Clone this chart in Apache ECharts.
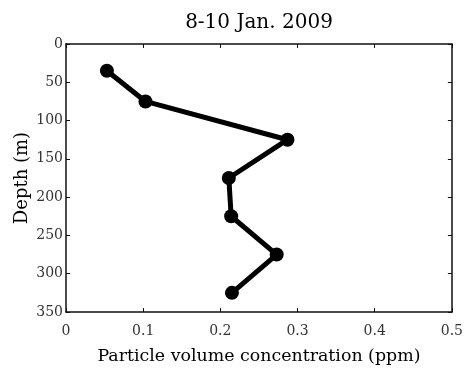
<!DOCTYPE html>
<html><head><meta charset="utf-8">
<script src="https://cdn.jsdelivr.net/npm/echarts@6/dist/echarts.min.js"></script>
<style>html,body{margin:0;padding:0;background:#fff}#c{width:466px;height:375px}</style>
</head><body><div id="c"></div>
<script>
var concentration = [0.053, 0.103, 0.287, 0.211, 0.214, 0.273, 0.215];
var depth = [35, 75, 125, 175, 225, 275, 325];
var xTicks = [0, 0.1, 0.2, 0.3, 0.4, 0.5];
var yTicks = [0, 50, 100, 150, 200, 250, 300, 350];
var title = '8-10 Jan. 2009';
var xName = 'Particle volume concentration (ppm)';
var yName = 'Depth (m)';

var font = 'DejaVu Serif';
var chart = echarts.init(document.getElementById('c'));
var pts = concentration.map(function(v, i){ return [v, depth[i]]; });
var axisLine = {show: true, onZero: false, lineStyle: {color: '#111', width: 1.5}};
var tick = {show: true, inside: true, length: 4, lineStyle: {color: '#111', width: 1}};
var lbl = {color: '#333', fontFamily: font, fontSize: 14};
chart.setOption({
  animation: false,
  title: {text: title, top: 8, left: 254, textAlign: 'center',
    textStyle: {fontFamily: font, fontSize: 20, fontWeight: 'normal', color: '#000'}},
  grid: {left: 66, right: 14, top: 44, bottom: 63},
  xAxis: [
    {type: 'value', min: xTicks[0], max: xTicks[xTicks.length-1], interval: 0.1,
     name: xName, nameLocation: 'middle', nameGap: 36, nameMoveOverlap: false,
     nameTextStyle: {fontFamily: font, fontSize: 17.4, color: '#000'},
     axisLine: axisLine, axisTick: tick, splitLine: {show: false},
     axisLabel: Object.assign({margin: 12, formatter: function(v){ return String(v); }}, lbl)},
    {type: 'value', position: 'top', min: 0, max: 0.5, interval: 0.1,
     axisLine: axisLine, axisTick: tick, axisLabel: {show: false}, splitLine: {show: false}}
  ],
  yAxis: [
    {type: 'value', inverse: true, min: yTicks[0], max: yTicks[yTicks.length-1], interval: 50,
     name: yName, nameLocation: 'middle', nameGap: 35, nameMoveOverlap: false,
     nameTextStyle: {fontFamily: font, fontSize: 18, color: '#000'},
     axisLine: axisLine, axisTick: tick, splitLine: {show: false},
     axisLabel: Object.assign({margin: 3}, lbl)},
    {type: 'value', inverse: true, position: 'right', min: 0, max: 350, interval: 50,
     axisLine: axisLine, axisTick: tick, axisLabel: {show: false}, splitLine: {show: false}}
  ],
  series: [{
    type: 'line', data: pts, symbol: 'circle', symbolSize: 14,
    lineStyle: {color: '#000', width: 5}, itemStyle: {color: '#000'}
  }]
});
</script></body></html>
